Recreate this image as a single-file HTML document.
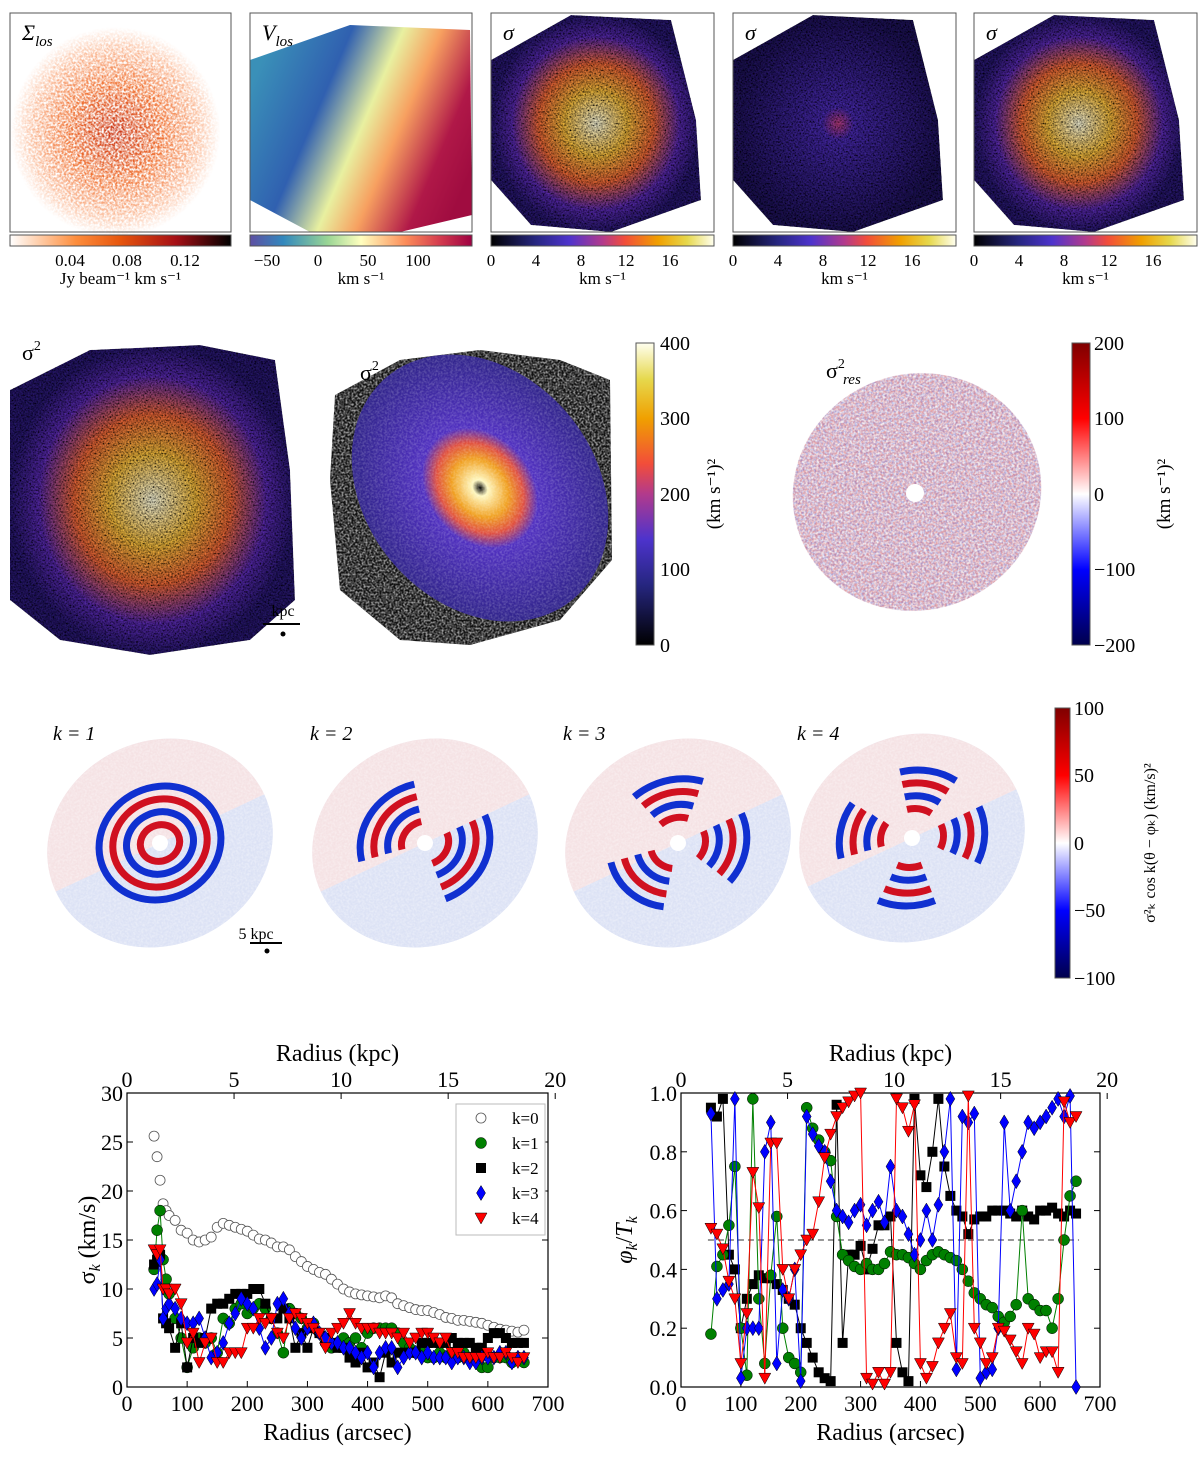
<!DOCTYPE html>
<html><head><meta charset="utf-8">
<style>
html,body{margin:0;padding:0;background:#fff;}
svg{display:block;font-family:"Liberation Serif",serif;}
</style></head>
<body>
<svg id="fig" width="1200" height="1458" viewBox="0 0 1200 1458" xmlns="http://www.w3.org/2000/svg">
<defs>
  <filter id="grain" x="0" y="0" width="100%" height="100%">
    <feTurbulence type="fractalNoise" baseFrequency="0.45" numOctaves="2" seed="3" result="n"/>
    <feColorMatrix in="n" type="matrix" values="0 0 0 0 0  0 0 0 0 0  0 0 0 0 0  0 0 0 -2.2 1.6" result="na"/>
    <feComposite in="SourceGraphic" in2="na" operator="in"/>
  </filter>
  <filter id="grainB" x="0" y="0" width="100%" height="100%">
    <feTurbulence type="fractalNoise" baseFrequency="0.5" numOctaves="2" seed="11" result="n"/>
    <feColorMatrix in="n" type="matrix" values="0 0 0 0 0  0 0 0 0 0  0 0 0 0 0  0 0 0 -2.5 1.6" result="na"/>
    <feComposite in="SourceGraphic" in2="na" operator="in"/>
  </filter>
  <filter id="grain2" x="0" y="0" width="100%" height="100%">
    <feTurbulence type="fractalNoise" baseFrequency="0.6" numOctaves="2" seed="7" result="n"/>
    <feColorMatrix in="n" type="matrix" values="1.5 0 0 0 -0.3  1.5 0 0 0 -0.3  1.5 0 0 0 -0.3  0 0 0 0 1" result="g"/>
    <feBlend in="SourceGraphic" in2="g" mode="multiply" result="b"/>
    <feComposite in="b" in2="SourceAlpha" operator="in"/>
  </filter>
  <linearGradient id="cbOr" x1="0" x2="1"><stop offset="0" stop-color="#fff"/><stop offset="0.3" stop-color="#fd8d3c"/><stop offset="0.5" stop-color="#e6550d"/><stop offset="0.75" stop-color="#a50f15"/><stop offset="1" stop-color="#000"/></linearGradient>
  <linearGradient id="cbSp" x1="0" x2="1"><stop offset="0" stop-color="#5e4fa2"/><stop offset="0.15" stop-color="#3288bd"/><stop offset="0.35" stop-color="#99d594"/><stop offset="0.5" stop-color="#ffffbf"/><stop offset="0.7" stop-color="#fc8d59"/><stop offset="0.85" stop-color="#d53e4f"/><stop offset="1" stop-color="#9e0142"/></linearGradient>
  <linearGradient id="cbCM" x1="0" x2="1"><stop offset="0" stop-color="#000"/><stop offset="0.2" stop-color="#262680"/><stop offset="0.35" stop-color="#4d33cc"/><stop offset="0.5" stop-color="#b23a8c"/><stop offset="0.6" stop-color="#f24d3a"/><stop offset="0.75" stop-color="#f0a000"/><stop offset="0.88" stop-color="#e6d84d"/><stop offset="1" stop-color="#fffff0"/></linearGradient>
  <linearGradient id="cbCMv" x1="0" x2="0" y1="1" y2="0"><stop offset="0" stop-color="#000"/><stop offset="0.2" stop-color="#262680"/><stop offset="0.35" stop-color="#4d33cc"/><stop offset="0.5" stop-color="#b23a8c"/><stop offset="0.6" stop-color="#f24d3a"/><stop offset="0.75" stop-color="#f0a000"/><stop offset="0.88" stop-color="#e6d84d"/><stop offset="1" stop-color="#fffff0"/></linearGradient>
  <linearGradient id="cbSeis" x1="0" x2="0" y1="1" y2="0"><stop offset="0" stop-color="#00004c"/><stop offset="0.25" stop-color="#0000ff"/><stop offset="0.5" stop-color="#ffffff"/><stop offset="0.75" stop-color="#ff0000"/><stop offset="1" stop-color="#800000"/></linearGradient>
  <radialGradient id="gSig"><stop offset="0" stop-color="#fffde0"/><stop offset="0.3" stop-color="#f8c040"/><stop offset="0.55" stop-color="#f06a3a"/><stop offset="0.8" stop-color="#5a2cb0"/><stop offset="1" stop-color="#2a1a70"/></radialGradient>
  <radialGradient id="gSigD"><stop offset="0" stop-color="#c04080"/><stop offset="0.15" stop-color="#4a2cb0"/><stop offset="1" stop-color="#20145a"/></radialGradient>
  <radialGradient id="gSur"><stop offset="0" stop-color="#c83010"/><stop offset="0.45" stop-color="#f07030"/><stop offset="0.8" stop-color="#fbc0a0"/><stop offset="1" stop-color="#fff"/></radialGradient>
  <linearGradient id="gVel" x1="0" x2="1" y1="0.3" y2="0.7"><stop offset="0" stop-color="#3a90b8"/><stop offset="0.3" stop-color="#3060b0"/><stop offset="0.5" stop-color="#e8f0a0"/><stop offset="0.65" stop-color="#f7a060"/><stop offset="0.85" stop-color="#b01848"/><stop offset="1" stop-color="#a00c40"/></linearGradient>
  <radialGradient id="gMod"><stop offset="0" stop-color="#000"/><stop offset="0.06" stop-color="#fff8c0"/><stop offset="0.22" stop-color="#f0a020"/><stop offset="0.34" stop-color="#e05040"/><stop offset="0.45" stop-color="#5030c0"/><stop offset="1" stop-color="#30248a"/></radialGradient>
</defs>
<g id="root"></g>
</svg>
<script>
// ===== chart data: sigma_k vs radius =====
var radiiL = [45,50,55,60,65,70,80,90,100,110,120,130,140,150,160,170,180,190,200,210,220,230,240,250,260,270,280,290,300,310,320,330,340,350,360,370,380,390,400,410,420,430,440,450,460,470,480,490,500,510,520,530,540,550,560,570,580,590,600,610,620,630,640,650,660];
var sigK0 = [25.6,23.5,21.1,18.7,18,17.5,17,16,15.7,15,14.8,15,15.3,16.3,16.7,16.5,16.3,16.1,15.9,15.5,15.1,15,14.7,14.3,14.3,14,13.3,12.8,12.3,12,11.7,11.5,11,10.5,10,9.7,9.5,9.4,9.3,9.2,9.1,9.3,9.1,8.5,8.3,8.1,7.9,7.8,7.8,7.6,7.4,7.1,7,6.8,6.8,6.7,6.6,6.5,6.3,6.1,5.9,5.8,5.7,5.6,5.8];
var sigK1 = [12,16,18,13,11,9.5,7,5,2,4,5,4.5,5,3.5,7,6.5,8,8.5,7.5,8,8.5,8,7,5.5,3.5,8,7.5,7,6,6.5,5.5,4.5,4,4.5,5,4.5,5,4,5.5,6,6,6,6,5.5,4.5,4,3.5,3.5,3,3,3.5,3,3.5,3,3.5,3,3,2,2,3,3,3,2.5,3,2.5];
var sigK2 = [12.5,13,13.5,7,6.5,6,4,6.5,2,5,4.5,5,8,8.5,8.5,9,9.5,9.5,9.5,10,10,8.5,7,7,8,7,4,5.5,4,6,5.5,5,4.5,4,4,3,2.5,3.5,2,2.5,1,3.5,2.5,3.5,3.5,3.5,3.5,4.5,4.5,4.5,4.5,4.5,5,4.5,4.5,4.5,4,4,5,5.5,5.5,5,4.5,4.5,4.5];
var sigK3 = [10,10.5,13,7,8,8.5,8,7,6.5,6.5,7,5,3,3.5,4.5,6.5,7.5,9,8.5,8,6,4,5,8.5,9,7.5,6,5,6,6.5,5.5,5,4.5,4.5,4,4,3.5,3,3.5,2,3.5,4,4,2,3,3.5,3.5,3,3.5,3,3,3,2.5,3,3,2.5,2.5,3,3,3,3.5,3.5,2.5,3,3];
var sigK4 = [14,13.5,14,10,10,9.5,10,8.5,4.5,5.5,2.5,4.5,5,2.5,2.5,3.5,3.5,3.5,6,6,7,6.5,7,5.5,5,7,7.5,7,6.5,6,5.5,4,5.5,6,6.5,7.5,6.5,6,6,6,5.5,5.5,5.5,5,5.5,4.5,5,5.5,5.5,5,4.5,5,3.5,3.5,3,3,3,3,3.5,3,3,3.5,3,2.5,3];
var yTicksL = [0,5,10,15,20,25,30];
var xTicks = [0,100,200,300,400,500,600,700];
var kpcTicks = [0,5,10,15,20];
var legendLabels = ["k=0","k=1","k=2","k=3","k=4"];
// ===== chart data: phase vs radius =====
var radiiR = [50,60,70,80,90,100,110,120,130,140,150,160,170,180,190,200,210,220,230,240,250,260,270,280,290,300,310,320,330,340,350,360,370,380,390,400,410,420,430,440,450,460,470,480,490,500,510,520,530,540,550,560,570,580,590,600,610,620,630,640,650,660];
var phK2 = [0.95,0.92,0.98,0.45,0.4,0.2,0.3,0.35,0.38,0.37,0.37,0.35,0.33,0.3,0.28,0.2,0.15,0.1,0.05,0.03,0.02,0.96,0.15,0.45,0.45,0.48,0.4,0.47,0.55,0.55,0.58,0.15,0.05,0.02,0.98,0.72,0.68,0.8,0.98,0.75,0.65,0.6,0.58,0.52,0.57,0.58,0.58,0.6,0.6,0.6,0.59,0.58,0.6,0.58,0.57,0.6,0.6,0.61,0.59,0.58,0.6,0.59];
var phK1 = [0.18,0.41,0.45,0.55,0.75,0.2,0.04,0.98,0.3,0.08,0.38,0.58,0.2,0.1,0.08,0.05,0.95,0.88,0.84,0.8,0.77,0.58,0.45,0.43,0.41,0.4,0.42,0.4,0.4,0.42,0.46,0.45,0.45,0.44,0.42,0.4,0.43,0.45,0.46,0.45,0.44,0.43,0.4,0.36,0.32,0.3,0.28,0.27,0.24,0.22,0.24,0.28,0.6,0.3,0.28,0.26,0.26,0.2,0.3,0.5,0.65,0.7];
var phK3 = [0.93,0.3,0.33,0.35,0.98,0.03,0.2,0.2,0.2,0.8,0.9,0.08,0.33,0.3,0.4,0.02,0.92,0.86,0.82,0.8,0.7,0.6,0.58,0.56,0.6,0.62,0.55,0.6,0.63,0.56,0.75,0.6,0.58,0.52,0.45,0.5,0.6,0.5,0.62,0.8,0.98,0.06,0.92,0.9,0.93,0.03,0.05,0.06,0.2,0.9,0.6,0.7,0.8,0.9,0.88,0.9,0.92,0.95,0.98,0.92,0.99,0.0];
var phK4 = [0.54,0.52,0.47,0.36,0.3,0.08,0.25,0.73,0.61,0.03,0.83,0.83,0.4,0.3,0.4,0.45,0.5,0.52,0.63,0.78,0.86,0.92,0.95,0.97,0.99,1.0,0.03,0.01,0.05,0.01,0.05,0.98,0.95,0.87,0.96,0.08,0.03,0.07,0.15,0.2,0.25,0.1,0.08,0.99,0.2,0.15,0.08,0.1,0.2,0.19,0.16,0.12,0.08,0.2,0.18,0.1,0.12,0.12,0.05,0.97,0.9,0.92];
var yTicksR = [0.0,0.2,0.4,0.6,0.8,1.0];
var phaseRef = [0.5];

var NS = "http://www.w3.org/2000/svg";
var root = document.getElementById("root");
function mk(tag, attrs, parent, txt){
  var e = document.createElementNS(NS, tag);
  for (var k in attrs) e.setAttribute(k, attrs[k]);
  if (txt !== undefined) e.textContent = txt;
  (parent || root).appendChild(e);
  return e;
}
function txt(x,y,s,size,anchor,parent,extra){
  var a = {x:x,y:y,"font-size":size,"text-anchor":anchor||"middle",fill:"#000"};
  if (extra) for (var k in extra) a[k]=extra[k];
  return mk("text",a,parent,s);
}

// ===== Row 1 =====
var r1 = mk("g",{});


var panels = [
  {x:10,w:221,grad:"cbOr",lab:"Σ",sub:"los",ticks:[["0.04",70],["0.08",127],["0.12",185]],unit:"Jy beam⁻¹ km s⁻¹",fill:"url(#gSur)",name:"surface-density"},
  {x:250,w:222,grad:"cbSp",lab:"V",sub:"los",ticks:[["−50",267],["0",318],["50",368],["100",418]],unit:"km s⁻¹",fill:"url(#gVel)",name:"velocity"},
  {x:491,w:223,grad:"cbCM",lab:"σ",sub:"",ticks:[["0",491],["4",536],["8",581],["12",626],["16",670]],unit:"km s⁻¹",fill:"url(#gSig)",name:"dispersion-obs"},
  {x:733,w:223,grad:"cbCM",lab:"σ",sub:"",ticks:[["0",733],["4",778],["8",823],["12",868],["16",912]],unit:"km s⁻¹",fill:"url(#gSigD)",name:"dispersion-beam"},
  {x:974,w:223,grad:"cbCM",lab:"σ",sub:"",ticks:[["0",974],["4",1019],["8",1064],["12",1109],["16",1153]],unit:"km s⁻¹",fill:"url(#gSig)",name:"dispersion-corrected"}
];
panels.forEach(function(p,i){
  var g = mk("g",{},r1);
  
  
  var cx = p.x + p.w/2, cy = 122;
  if (i===0) {
    mk("ellipse",{cx:cx-5,cy:cy+10,rx:105,ry:105,fill:p.fill,filter:"url(#grain)"},g);
  } else if (i===1) {
    mk("path",{d:"M"+(p.x)+",60 L"+(p.x+100)+",25 L"+(p.x+220)+",30 L"+(p.x+222)+",215 L"+(p.x+150)+",232 L"+(p.x+60)+",232 L"+(p.x)+",200 Z",fill:p.fill},g);
  } else {
    mk("path",{d:"M"+(p.x)+",60 L"+(p.x+80)+",15 L"+(p.x+180)+",20 L"+(p.x+205)+",120 L"+(p.x+210)+",200 L"+(p.x+120)+",232 L"+(p.x+40)+",225 L"+(p.x)+",180 Z",fill:p.fill,filter:"url(#grain2)"},g);
  }
  mk("rect",{x:p.x,y:13,width:p.w,height:219,fill:"none",stroke:"#555","stroke-width":1},g);
  var t = txt(p.x+12, 40, p.lab, 22, "start", g, {"font-style":"italic"});
  if (p.sub) mk("tspan",{"font-size":15,dy:6},t,p.sub);
  var cb = mk("rect",{x:p.x,y:235,width:p.w,height:11,fill:"url(#"+p.grad+")",stroke:"#555","stroke-width":1},g);
  
  
  p.ticks.forEach(function(tk){ txt(tk[1],266,tk[0],17,"middle",g); });
  txt(p.x+p.w/2,284,p.unit,17,"middle",g);
});

// ===== Row 2 =====
var r2 = mk("g",{});


mk("path",{d:"M10,390 L90,350 L200,345 L275,360 L290,470 L295,600 L250,640 L150,655 L60,640 L10,600 Z",fill:"url(#gSig)",filter:"url(#grain2)"},r2);
txt(22,360,"σ",22,"start",r2).appendChild(mk("tspan",{"font-size":14,dy:-10},r2,"2"));
mk("line",{x1:263,y1:624,x2:300,y2:624,stroke:"#000","stroke-width":2},r2);
txt(283,616,"kpc",16,"middle",r2);
mk("circle",{cx:283,cy:634,r:2.5,fill:"#000"},r2);
mk("path",{d:"M335,395 L400,360 L480,350 L560,360 L610,380 L612,560 L560,620 L470,645 L400,640 L340,590 L330,480 Z",fill:"#111"},r2);
mk("path",{d:"M335,395 L400,360 L480,350 L560,360 L610,380 L612,560 L560,620 L470,645 L400,640 L340,590 L330,480 Z",fill:"#fff",filter:"url(#grainB)",opacity:0.6},r2);
mk("ellipse",{cx:480,cy:488,rx:115,ry:145,transform:"rotate(-40 480 488)",fill:"url(#gMod)"},r2);
mk("ellipse",{cx:480,cy:488,rx:115,ry:145,transform:"rotate(-40 480 488)",fill:"#fff",filter:"url(#grainB)",opacity:0.2},r2);
txt(360,380,"σ",22,"start",r2).appendChild(mk("tspan",{"font-size":14,dy:-10},r2,"2"));
var cb1 = mk("rect",{x:636,y:343,width:18,height:302,fill:"url(#cbCMv)",stroke:"#555","stroke-width":1},r2);


[["400",343],["300",418],["200",494],["100",569],["0",645]].forEach(function(t){ txt(660,t[1]+7,t[0],20,"start",r2); });
txt(0,0,"(km s⁻¹)²",19,"middle",r2,{transform:"translate(720 494) rotate(-90)"});
mk("ellipse",{cx:917,cy:492,rx:125,ry:118,transform:"rotate(-20 917 492)",fill:"#f6f4f8"},r2);
mk("ellipse",{cx:917,cy:492,rx:125,ry:118,transform:"rotate(-20 917 492)",fill:"#d02828",filter:"url(#grain)",opacity:0.4},r2);
mk("ellipse",{cx:917,cy:492,rx:125,ry:118,transform:"rotate(-20 917 492)",fill:"#2840d0",filter:"url(#grainB)",opacity:0.3},r2);
mk("circle",{cx:915,cy:493,r:9,fill:"#fff"},r2);
txt(826,378,"σ",22,"start",r2).appendChild(mk("tspan",{"font-size":14,dy:-10},r2,"2"));
txt(843,384,"res",15,"start",r2,{"font-style":"italic"});
var cb2 = mk("rect",{x:1072,y:343,width:18,height:302,fill:"url(#cbSeis)",stroke:"#555","stroke-width":1},r2);


[["200",343],["100",418],["0",494],["−100",569],["−200",645]].forEach(function(t){ txt(1094,t[1]+7,t[0],20,"start",r2); });
txt(0,0,"(km s⁻¹)²",19,"middle",r2,{transform:"translate(1170 494) rotate(-90)"});

// ===== Row 3 =====
var r3 = mk("g",{});


var discs = [[160,843,"k = 1"],[425,843,"k = 2"],[678,843,"k = 3"],[912,838,"k = 4"]];
discs.forEach(function(d,i){
  var g = mk("g",{transform:"rotate(-25 "+d[0]+" "+d[1]+")"},r3);
  
  
  mk("ellipse",{cx:d[0],cy:d[1],rx:115,ry:102,fill:"#eef0f8"},g);
  mk("path",{d:"M"+(d[0]-115)+","+d[1]+" A115,102 0 0 1 "+(d[0]+115)+","+d[1]+" Z",fill:"#f8dcdc",opacity:0.7},g);
  mk("path",{d:"M"+(d[0]-115)+","+d[1]+" A115,102 0 0 0 "+(d[0]+115)+","+d[1]+" Z",fill:"#d4dcf4",opacity:0.7},g);
  mk("ellipse",{cx:d[0],cy:d[1],rx:115,ry:102,fill:"#fff",filter:"url(#grainB)",opacity:0.35},g);
  for (var j=0;j<4;j++){
    var rr = 20+j*14 + i*4;
    mk("ellipse",{cx:d[0],cy:d[1],rx:rr,ry:rr*0.9,fill:"none",stroke:j%2?"#1030d0":"#d01020","stroke-width":7,"stroke-dasharray":(i+1>1? (rr*3.14/(i+1))+","+(rr*3.14/(i+1)) : "none")},g);
  }
  mk("circle",{cx:d[0],cy:d[1],r:8,fill:"#fff"},g);
  txt(d[0]-115+(i==0?8:0),740,d[2],20,"start",r3,{"font-style":"italic"});
});
mk("line",{x1:250,y1:943,x2:282,y2:943,stroke:"#000","stroke-width":2},r3);
txt(256,939,"5 kpc",16,"middle",r3);
mk("circle",{cx:267,cy:951,r:2.5,fill:"#000"},r3);
var cb3 = mk("rect",{x:1055,y:708,width:15,height:270,fill:"url(#cbSeis)",stroke:"#555","stroke-width":1},r3);


[["100",708],["50",775],["0",843],["−50",910],["−100",978]].forEach(function(t){ txt(1074,t[1]+7,t[0],20,"start",r3); });
txt(0,0,"σ²ₖ cos k(θ − φₖ) (km/s)²",16,"middle",r3,{transform:"translate(1155 843) rotate(-90)"});

// ===== Bottom charts =====
function makeChart(name, x0, x1, y0, y1, ymin, ymax){
  var g = mk("g",{});
  
  
  return {g:g, sx:function(v){return x0+(x1-x0)*v/700;}, sy:function(v){return y1-(y1-y0)*(v-ymin)/(ymax-ymin);}, x0:x0,x1:x1,y0:y0,y1:y1};
}
function axes(c, yt, yfmt, ylab, ylabX){
  mk("rect",{x:c.x0,y:c.y0,width:c.x1-c.x0,height:c.y1-c.y0,fill:"none",stroke:"#000","stroke-width":1.2},c.g);
  xTicks.forEach(function(t){
    var x=c.sx(t);
    mk("line",{x1:x,y1:c.y1,x2:x,y2:c.y1-6,stroke:"#000"},c.g);
    var l = txt(x,c.y1+24,String(t),22,"middle",c.g);
    
    
  });
  kpcTicks.forEach(function(t){
    var x=c.sx(t*35.6);
    mk("line",{x1:x,y1:c.y0,x2:x,y2:c.y0+6,stroke:"#000"},c.g);
    txt(x,c.y0-6,String(t),22,"middle",c.g);
  });
  yt.forEach(function(t){
    var y=c.sy(t);
    mk("line",{x1:c.x0,y1:y,x2:c.x0+6,y2:y,stroke:"#000"},c.g);
    mk("line",{x1:c.x1,y1:y,x2:c.x1-6,y2:y,stroke:"#000"},c.g);
    var l = txt(c.x0-4,y+8,yfmt(t),22,"end",c.g);
    
    
  });
  var xl = txt((c.x0+c.x1)/2,c.y1+53,"Radius (arcsec)",24,"middle",c.g);
  
  
  var tl = txt((c.x0+c.x1)/2,c.y0-32,"Radius (kpc)",24,"middle",c.g);
  
  
  var yl = mk("text",{x:0,y:0,"font-size":24,"text-anchor":"middle",transform:"translate("+ylabX+" "+((c.y0+c.y1)/2)+") rotate(-90)"},c.g);
  yl.innerHTML = ylab;
  
  
}
function marker(g,type,x,y,col){
  var m;
  if (type==="o") m = mk("circle",{cx:x,cy:y,r:5,fill:"#fff",stroke:"#555","stroke-width":0.8},g);
  else if (type==="c") m = mk("circle",{cx:x,cy:y,r:5.5,fill:col,stroke:"#000","stroke-width":0.5},g);
  else if (type==="s") m = mk("rect",{x:x-5,y:y-5,width:10,height:10,fill:col},g);
  else if (type==="d") m = mk("polygon",{points:x+","+(y-7.5)+" "+(x+4.5)+","+y+" "+x+","+(y+7.5)+" "+(x-4.5)+","+y,fill:col,stroke:"#000","stroke-width":0.5},g);
  else m = mk("polygon",{points:(x-6)+","+(y-5)+" "+(x+6)+","+(y-5)+" "+x+","+(y+6),fill:col,stroke:"#000","stroke-width":0.5},g);
  return m;
}
function series(c,xs,ys,type,col,line,name){
  var sg = mk("g",{},c.g);
  
  
  if (line){
    var pts = xs.map(function(r,i){return c.sx(r)+","+c.sy(ys[i]);}).join(" ");
    mk("polyline",{points:pts,fill:"none",stroke:col,"stroke-width":1},sg);
  }
  xs.forEach(function(r,i){
    var m = marker(sg,type,c.sx(r),c.sy(ys[i]),col);
    
    
  });
}
var L = makeChart("sigma-k-chart",127,548,1093,1387,0,30);
axes(L,yTicksL,function(t){return String(t);},'σ<tspan font-size="16" dy="5" font-style="italic">k</tspan><tspan dy="-5"> (km/s)</tspan>',95);
series(L,radiiL,sigK0,"o","#fff",false,"series-k0");
series(L,radiiL,sigK1,"c","#008000",true,"series-k1");
series(L,radiiL,sigK2,"s","#000",true,"series-k2");
series(L,radiiL,sigK3,"d","#0000ff",true,"series-k3");
series(L,radiiL,sigK4,"t","#ff0000",true,"series-k4");
var lg = mk("g",{},L.g);


mk("rect",{x:456,y:1104,width:89,height:131,fill:"#fff",stroke:"#bbb"},lg);
var lt=["o","c","s","d","t"], lc=["#fff","#008000","#000","#0000ff","#ff0000"];
legendLabels.forEach(function(s,i){
  var y=1118+i*25;
  var e = mk("g",{},lg);
  
  
  marker(e,lt[i],481,y,lc[i]);
  txt(512,y+6,s,17,"start",e);
});

var R = makeChart("phase-chart",681,1100,1093,1387,0,1);
axes(R,yTicksR,function(t){return t.toFixed(1);},'<tspan font-style="italic">φ</tspan><tspan font-size="16" dy="5" font-style="italic">k</tspan><tspan dy="-5">/</tspan><tspan font-style="italic">T</tspan><tspan font-size="16" dy="5" font-style="italic">k</tspan>',632);
phaseRef.forEach(function(v){
  var dl = mk("line",{x1:R.sx(45),y1:R.sy(v),x2:R.sx(665),y2:R.sy(v),stroke:"#333","stroke-width":1,"stroke-dasharray":"6,4"},R.g);
  
  
});
series(R,radiiR,phK2,"s","#000",true,"phase-k2");
series(R,radiiR,phK1,"c","#008000",true,"phase-k1");
series(R,radiiR,phK3,"d","#0000ff",true,"phase-k3");
series(R,radiiR,phK4,"t","#ff0000",true,"phase-k4");
</script>
</body></html>
